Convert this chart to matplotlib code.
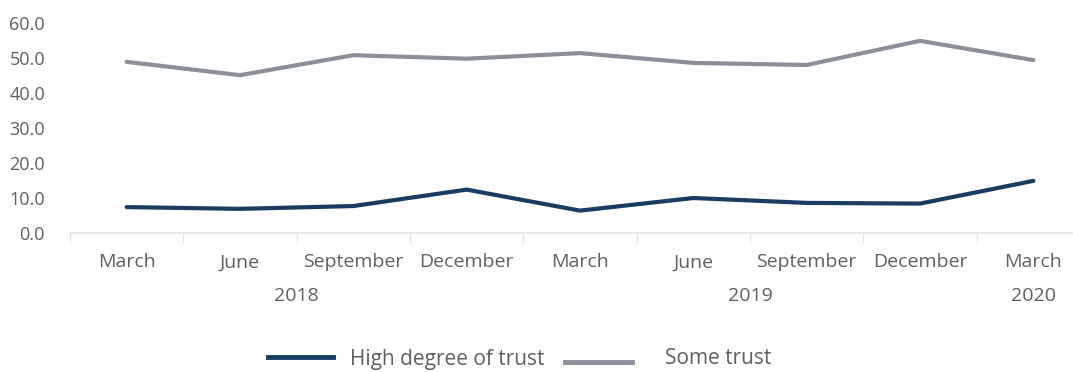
import matplotlib.pyplot as plt
from matplotlib.lines import Line2D

months = ["March", "June", "September", "December",
          "March", "June", "September", "December", "March"]
years = ["2018", "2019", "2020"]
year_span = [(0, 3), (4, 7), (8, 8)]
high_trust = [7.4, 6.9, 7.7, 12.4, 6.4, 10.0, 8.6, 8.4, 14.9]
some_trust = [48.9, 45.1, 50.8, 49.8, 51.4, 48.6, 48.0, 54.9, 49.4]
series_names = ["High degree of trust", "Some trust"]

navy = "#183c62"
grey = "#8a8f9b"
text_col = "#5f5f5f"

plt.rcParams['font.family'] = ['Open Sans', 'DejaVu Sans']

W, H = 1073, 372
fig = plt.figure(figsize=(W / 100, H / 100), dpi=100)
ax = fig.add_axes([70 / W, 139 / H, 1020 / W, 210 / H])

x = list(range(len(months)))
ax.plot(x, high_trust, color=navy, lw=3.0, solid_capstyle='round', solid_joinstyle='round')
ax.plot(x, some_trust, color=grey, lw=3.0, solid_capstyle='round', solid_joinstyle='round')

ax.set_xlim(-0.5, len(months) - 0.5)
ax.set_ylim(0, 60)
ax.set_yticks(range(0, 61, 10))
ax.set_yticklabels([f"{v:.1f}" for v in range(0, 61, 10)])
ax.tick_params(axis='y', length=0, pad=18, labelsize=13, labelcolor=text_col)

# category boundaries as ticks, labels drawn by hand below
ax.set_xticks([i - 0.5 for i in range(len(months) + 1)])
ax.set_xticklabels([])
ax.tick_params(axis='x', length=7, color="#e3e3e3", width=1)

for s in ["top", "right", "left"]:
    ax.spines[s].set_visible(False)
ax.spines["bottom"].set_color("#e3e3e3")
ax.spines["bottom"].set_linewidth(1.2)

for i, m in enumerate(months):
    ax.text(i, -8.4, m, ha='center', va='center', fontsize=14, color=text_col)

for yr, (a, b) in zip(years, year_span):
    ax.text((a + b) / 2, -18.1, yr, ha='center', va='center', fontsize=14, color=text_col)

# legend row under the chart
legend_items = [(navy, 268, 333, 357, 350), (grey, 565, 632, 362, 665)]
for name, (col, x0, x1, ly, tx) in zip(series_names, legend_items):
    fig.add_artist(Line2D([x0 / W, x1 / W], [1 - ly / H, 1 - ly / H],
                          color=col, lw=3.5, transform=fig.transFigure))
    fig.text(tx / W, 1 - 359 / H, name, ha='left', va='center',
             fontsize=15, color=text_col)

fig.savefig("out.png", dpi=100)
